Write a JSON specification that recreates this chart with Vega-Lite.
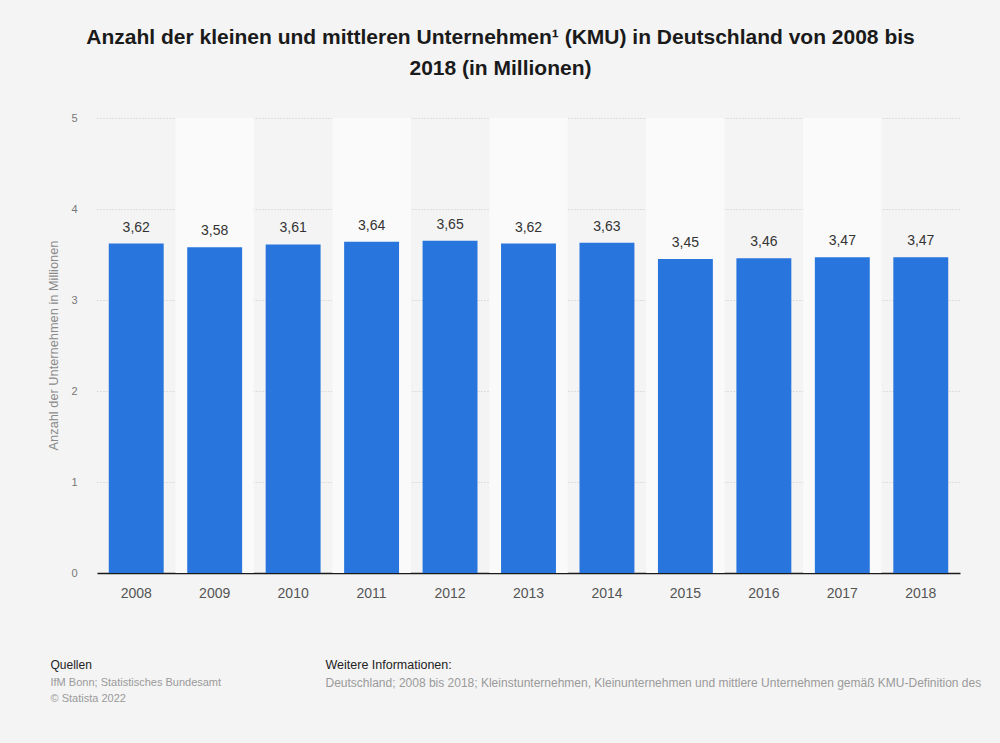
{
  "$schema": "https://vega.github.io/schema/vega-lite/v6.json",
  "autosize": "none",
  "width": 863,
  "height": 455,
  "padding": {"left": 97, "top": 118, "right": 40, "bottom": 170},
  "background": "#f4f4f4",
  "title": {
    "text": ["Anzahl der kleinen und mittleren Unternehmen¹ (KMU) in Deutschland von 2008 bis", "2018 (in Millionen)"],
    "anchor": "middle",
    "dx": -28,
    "offset": 33,
    "font": "Liberation Sans",
    "fontSize": 21,
    "fontWeight": "bold",
    "color": "#1a1a1a",
    "lineHeight": 31
  },
  "data": {
    "values": [
      {"Jahr": "2008", "Anzahl": 3.62, "Band": 0},
      {"Jahr": "2009", "Anzahl": 3.58, "Band": 1},
      {"Jahr": "2010", "Anzahl": 3.61, "Band": 0},
      {"Jahr": "2011", "Anzahl": 3.64, "Band": 1},
      {"Jahr": "2012", "Anzahl": 3.65, "Band": 0},
      {"Jahr": "2013", "Anzahl": 3.62, "Band": 1},
      {"Jahr": "2014", "Anzahl": 3.63, "Band": 0},
      {"Jahr": "2015", "Anzahl": 3.45, "Band": 1},
      {"Jahr": "2016", "Anzahl": 3.46, "Band": 0},
      {"Jahr": "2017", "Anzahl": 3.47, "Band": 1},
      {"Jahr": "2018", "Anzahl": 3.47, "Band": 0}
    ]
  },
  "encoding": {
    "x": {
      "field": "Jahr",
      "type": "nominal",
      "scale": {"paddingInner": 0.3, "paddingOuter": 0.15}
    }
  },
  "layer": [
    {
      "transform": [{"filter": "datum.Band == 1"}],
      "mark": {"type": "bar", "color": "#fafafa", "width": {"band": 1.4286}},
      "encoding": {
        "x": {
          "field": "Jahr",
          "type": "nominal",
          "axis": {
            "orient": "bottom",
            "labels": false,
            "ticks": false,
            "domain": false,
            "title": "Deutschland; 2008 bis 2018; Kleinstunternehmen, Kleinunternehmen und mittlere Unternehmen gemäß KMU-Definition des",
            "titleX": 228,
            "titleY": 109,
            "titleAlign": "left",
            "titleAnchor": "start",
            "titleBaseline": "middle",
            "titleFont": "Liberation Sans",
            "titleFontSize": 12,
            "titleFontWeight": "normal",
            "titleColor": "#9a9a9a"
          }
        }
      }
    },
    {
      "mark": {"type": "bar", "color": "#2876dd"},
      "encoding": {
        "x": {
          "field": "Jahr",
          "type": "nominal",
          "axis": {
            "orient": "bottom",
            "labelAngle": 0,
            "labelFont": "Liberation Sans",
            "labelFontSize": 14,
            "labelColor": "#555555",
            "labelPadding": 13,
            "ticks": false,
            "domainColor": "#1a1a1a",
            "domainWidth": 1.5,
            "title": "Quellen",
            "titleX": -47,
            "titleY": 91,
            "titleAlign": "left",
            "titleAnchor": "start",
            "titleBaseline": "middle",
            "titleFont": "Liberation Sans",
            "titleFontSize": 12,
            "titleFontWeight": "normal",
            "titleColor": "#222222"
          }
        },
        "y": {
          "field": "Anzahl",
          "type": "quantitative",
          "scale": {"domain": [0, 5]},
          "axis": {
            "orient": "left",
            "values": [0, 1, 2, 3, 4, 5],
            "labelFont": "Liberation Sans",
            "labelFontSize": 11,
            "labelColor": "#777777",
            "labelPadding": 20,
            "ticks": false,
            "domain": false,
            "gridColor": "#c8c8c8",
            "gridDash": [1, 2],
            "title": "Anzahl der Unternehmen in Millionen",
            "titleX": -44,
            "titleY": 227,
            "titleAngle": 270,
            "titleAlign": "center",
            "titleBaseline": "middle",
            "titleFont": "Liberation Sans",
            "titleFontSize": 12.8,
            "titleFontWeight": "normal",
            "titleColor": "#8a8a8a"
          }
        }
      }
    },
    {
      "mark": {
        "type": "text",
        "baseline": "bottom",
        "dy": -9,
        "font": "Liberation Sans",
        "fontSize": 14,
        "color": "#333333"
      },
      "encoding": {
        "x": {
          "field": "Jahr",
          "type": "nominal",
          "axis": {
            "orient": "bottom",
            "labels": false,
            "ticks": false,
            "domain": false,
            "title": ["IfM Bonn; Statistisches Bundesamt", "© Statista 2022"],
            "titleX": -47,
            "titleY": 109,
            "titleAlign": "left",
            "titleAnchor": "start",
            "titleBaseline": "middle",
            "titleLineHeight": 16,
            "titleFont": "Liberation Sans",
            "titleFontSize": 11,
            "titleFontWeight": "normal",
            "titleColor": "#9a9a9a"
          }
        },
        "y": {
          "field": "Anzahl",
          "type": "quantitative",
          "axis": {
            "orient": "right",
            "labels": false,
            "ticks": false,
            "domain": false,
            "grid": false,
            "title": "Weitere Informationen:",
            "titleX": -635,
            "titleY": 546,
            "titleAngle": 0,
            "titleAlign": "left",
            "titleAnchor": "start",
            "titleBaseline": "middle",
            "titleFont": "Liberation Sans",
            "titleFontSize": 12.5,
            "titleFontWeight": "normal",
            "titleColor": "#222222"
          }
        },
        "text": {"field": "Anzahl", "type": "quantitative", "format": ".2f"}
      }
    }
  ],
  "resolve": {"axis": {"x": "independent", "y": "independent"}},
  "config": {
    "view": {"stroke": null},
    "locale": {
      "number": {"decimal": ",", "thousands": ".", "grouping": [3], "currency": ["", " €"]}
    }
  }
}
